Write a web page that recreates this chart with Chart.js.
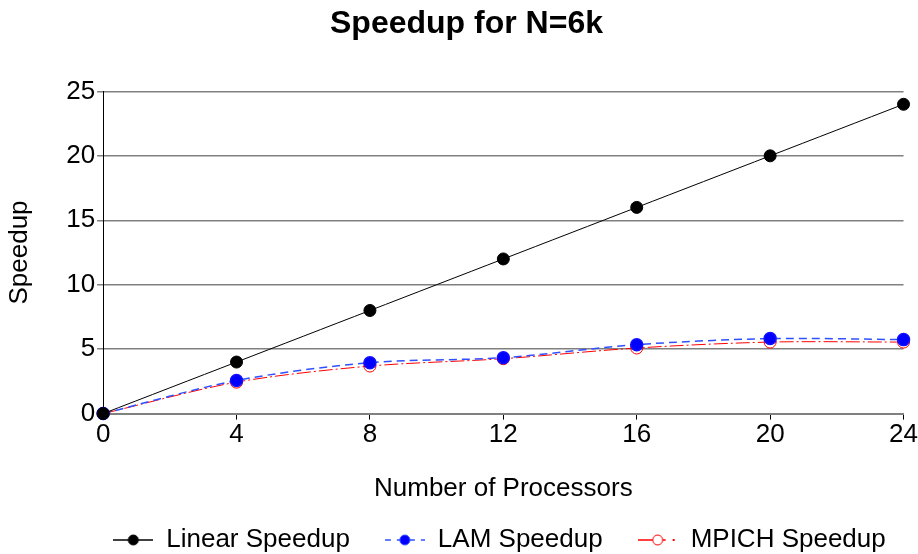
<!DOCTYPE html>
<html>
<head>
<meta charset="utf-8">
<script src="https://cdn.jsdelivr.net/npm/chart.js@4"></script>
<style>
    html, body { margin: 0; padding: 0; background: #fff; }
    #wrap { width: 918px; height: 554px; }
</style>
</head>
<body>
<div id="wrap"><canvas id="SpeedupChart"></canvas></div>
<script>
const processors = [0, 4, 8, 12, 16, 20, 24];
const linearSpeedup = [0, 4, 8, 12, 16, 20, 24];
const lamSpeedup = [0, 2.57, 3.95, 4.34, 5.35, 5.82, 5.74];
const mpichSpeedup = [0, 2.44, 3.69, 4.26, 5.09, 5.55, 5.55];

const font = "Arial, 'Liberation Sans', sans-serif";

function toPoints(values) {
    return processors.map((x, i) => ({ x: x, y: values[i] }));
}

// line + marker picture used as the legend symbol
function legendIcon(color, dash, fill, trailDot) {
    const c = document.createElement("canvas");
    c.width = 40;
    c.height = 16;
    const ctx = c.getContext("2d");
    ctx.strokeStyle = color;
    ctx.lineWidth = 1.5;
    ctx.setLineDash(dash);
    ctx.beginPath();
    ctx.moveTo(0, 8);
    ctx.lineTo(trailDot ? 28 : 40, 8);
    ctx.stroke();
    ctx.setLineDash([]);
    if (trailDot) {
        ctx.fillStyle = color;
        ctx.fillRect(35, 7, 2, 2);
    }
    ctx.beginPath();
    ctx.arc(20, 8, 5, 0, Math.PI * 2);
    ctx.fillStyle = fill;
    ctx.fill();
    ctx.lineWidth = 1;
    ctx.stroke();
    return c;
}

// the legend (and title) sit under/over the plot area rather than the whole canvas
const legendShift = {
    id: "legendShift",
    afterLayout(chart) {
        const legend = chart.legend;
        legend.left += 40;
        legend.right += 40;
        legend.top -= 22;
        legend.bottom = chart.height;
        chart.titleBlock.left += 7;
        chart.titleBlock.right += 7;
    }
};

const datasets = [
    {
        label: "Linear Speedup",
        data: toPoints(linearSpeedup),
        borderColor: "#000000",
        backgroundColor: "#000000",
        borderWidth: 1,
        pointRadius: 6,
        pointBorderWidth: 1,
        pointBackgroundColor: "#000000",
        icon: legendIcon("#000000", [], "#000000", false)
    },
    {
        label: "LAM Speedup",
        data: toPoints(lamSpeedup),
        borderColor: "#3050ff",
        backgroundColor: "#0000ff",
        borderWidth: 1.5,
        borderDash: [8, 5],
        pointRadius: 6,
        pointBorderWidth: 1.5,
        pointBorderColor: "#1010ff",
        pointBackgroundColor: "#0000ff",
        icon: legendIcon("#3050ff", [6, 6], "#0000ff", false)
    },
    {
        label: "MPICH Speedup",
        data: toPoints(mpichSpeedup),
        borderColor: "#ff0000",
        backgroundColor: "rgba(0,0,0,0)",
        borderWidth: 1,
        borderDash: [14, 3, 2, 3],
        pointRadius: 6,
        pointBorderWidth: 1,
        pointBorderColor: "#ff0000",
        pointBackgroundColor: "rgba(0,0,0,0)",
        icon: legendIcon("#ff0000", [], "#ffffff", true)
    }
];

new Chart(document.getElementById("SpeedupChart").getContext("2d"), {
    type: "line",
    data: { datasets: datasets },
    options: {
        responsive: true,
        maintainAspectRatio: false,
        animation: false,
        clip: false,
        tension: 0.3,
        layout: { padding: { left: 4, right: 3, top: 0, bottom: 0 } },
        plugins: {
            title: {
                display: true,
                text: "Speedup for N=6k",
                color: "#000",
                font: { family: font, size: 32, weight: "bold" },
                padding: { top: 5, bottom: 48 }
            },
            legend: {
                position: "bottom",
                maxHeight: 40,
                labels: {
                    color: "#000",
                    font: { family: font, size: 26 },
                    usePointStyle: true,
                    pointStyleWidth: 40,
                    padding: 35,
                    generateLabels: chart => chart.data.datasets.map((ds, i) => ({
                        text: ds.label,
                        pointStyle: ds.icon,
                        fontColor: "#000",
                        datasetIndex: i,
                        lineWidth: 0,
                        strokeStyle: "rgba(0,0,0,0)",
                        fillStyle: "rgba(0,0,0,0)"
                    }))
                }
            },
            tooltip: { enabled: false }
        },
        scales: {
            x: {
                type: "linear",
                min: 0,
                max: 24,
                ticks: {
                    stepSize: 4,
                    color: "#000",
                    font: { family: font, size: 26 },
                    padding: 0
                },
                grid: { drawOnChartArea: false, drawTicks: true, tickLength: 6, color: "#000" },
                border: { color: "#808080", width: 2 },
                title: {
                    display: true,
                    text: "Number of Processors",
                    color: "#000",
                    font: { family: font, size: 26 },
                    padding: { top: 22, bottom: 10 }
                }
            },
            y: {
                min: 0,
                max: 25,
                ticks: {
                    stepSize: 5,
                    color: "#000",
                    font: { family: font, size: 26 },
                    padding: 2
                },
                grid: { color: "#808080", lineWidth: 1.5, tickLength: 6 },
                border: { color: "#000", width: 1 },
                title: {
                    display: true,
                    text: "Speedup",
                    color: "#000",
                    font: { family: font, size: 26 },
                    padding: { top: 0, bottom: 29 }
                }
            }
        }
    },
    plugins: [legendShift]
});
</script>
</body>
</html>
